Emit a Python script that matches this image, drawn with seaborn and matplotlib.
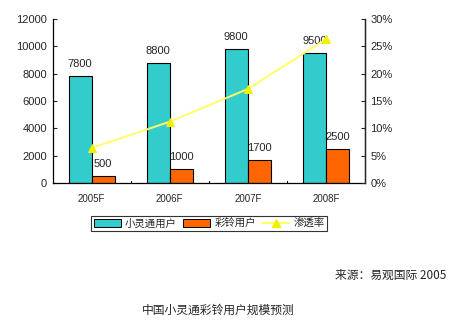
import matplotlib
matplotlib.use("Agg")
import matplotlib.pyplot as plt
import seaborn as sns
import pandas as pd
from matplotlib.lines import Line2D
from matplotlib.patches import Patch
from matplotlib.ticker import FuncFormatter

years = ["2005F", "2006F", "2007F", "2008F"]
phs_users = [7800, 8800, 9800, 9500]
ringback_users = [500, 1000, 1700, 2500]
penetration = [6.4, 11.2, 17.2, 26.3]
series_names = ["小灵通用户", "彩铃用户", "渗透率"]
source_text = "来源：易观国际 2005"
title_text = "中国小灵通彩铃用户规模预测"

TEAL = "#33CCCC"
ORANGE = "#FF6600"
YELLOW = "#FFFF66"
MARKER = "#F0F000"

sns.set_style("white")
plt.rcParams["font.family"] = ["Liberation Sans", "Noto Sans CJK SC", "DejaVu Sans"]
CJK = ["Noto Sans CJK SC", "DejaVu Sans"]

df = pd.DataFrame({
    "year": years * 2,
    "users": phs_users + ringback_users,
    "series": [series_names[0]] * 4 + [series_names[1]] * 4,
})

fig = plt.figure(figsize=(4.5, 3.26), dpi=100)
ax = fig.add_axes([52.5 / 450, 1 - 183 / 326, 312.5 / 450, 164 / 326])

sns.barplot(data=df, x="year", y="users", hue="series", order=years,
            hue_order=series_names[:2], palette=[TEAL, ORANGE], saturation=1,
            width=0.59, edgecolor="black", linewidth=0.8, ax=ax, legend=False)

ax.set_ylim(0, 12000)
ax.set_xlim(-0.5, 3.5)
ax.set_yticks(range(0, 12001, 2000))
ax.set_xlabel("")
ax.set_ylabel("")
ax.set_xticks(range(4))
ax.set_xticklabels(years, fontsize=7)
ax.tick_params(axis="x", length=0, pad=8)
ax.tick_params(axis="y", direction="in", length=3, width=0.8, labelsize=8, pad=4)
# category divider ticks on the category axis
for b in [0.5, 1.5, 2.5]:
    ax.plot([b, b], [0, 150], color="black", lw=0.8, clip_on=False)

ax.spines["top"].set_visible(False)
for sp in ["left", "bottom", "right"]:
    ax.spines[sp].set_color("black")
    ax.spines[sp].set_linewidth(0.9)

for container in ax.containers:
    ax.bar_label(container, fontsize=8, padding=5)

ax2 = ax.twinx()
sns.lineplot(x=list(range(4)), y=penetration, ax=ax2, color=YELLOW, lw=1.4,
             marker="^", markersize=6, markerfacecolor=MARKER,
             markeredgecolor=MARKER)
ax2.set_ylim(0, 30)
ax2.set_yticks(range(0, 31, 5))
ax2.yaxis.set_major_formatter(FuncFormatter(lambda v, p: f"{int(v)}%"))
ax2.tick_params(axis="y", direction="in", length=3, width=0.8, labelsize=8, pad=4)
ax2.set_ylabel("")
ax2.spines["top"].set_visible(False)
ax2.spines["right"].set_linewidth(0.9)
ax2.spines["left"].set_visible(False)
ax2.spines["bottom"].set_visible(False)

handles = [
    Patch(facecolor=TEAL, edgecolor="black", linewidth=0.7),
    Patch(facecolor=ORANGE, edgecolor="black", linewidth=0.7),
    Line2D([0], [0], color=YELLOW, lw=1.4, marker="^", markersize=6,
           markerfacecolor=MARKER, markeredgecolor=MARKER),
]
leg = fig.legend(handles, series_names, loc="center",
                 bbox_to_anchor=(209 / 450, 1 - 223.5 / 326), ncol=3,
                 prop={"family": CJK, "size": 7.5}, frameon=True,
                 fancybox=False, edgecolor="black", handlelength=2.6,
                 handleheight=0.8, columnspacing=0.6, handletextpad=0.4,
                 borderpad=0.25, borderaxespad=0)
leg.get_frame().set_linewidth(0.8)

fig.text(446 / 450, 1 - 275 / 326, source_text, ha="right", va="center",
         fontsize=8.5, family=CJK)
fig.text(218 / 450, 1 - 310 / 326, title_text, ha="center", va="center",
         fontsize=8.5, family=CJK)

fig.savefig("out.png", dpi=100, facecolor="white")
